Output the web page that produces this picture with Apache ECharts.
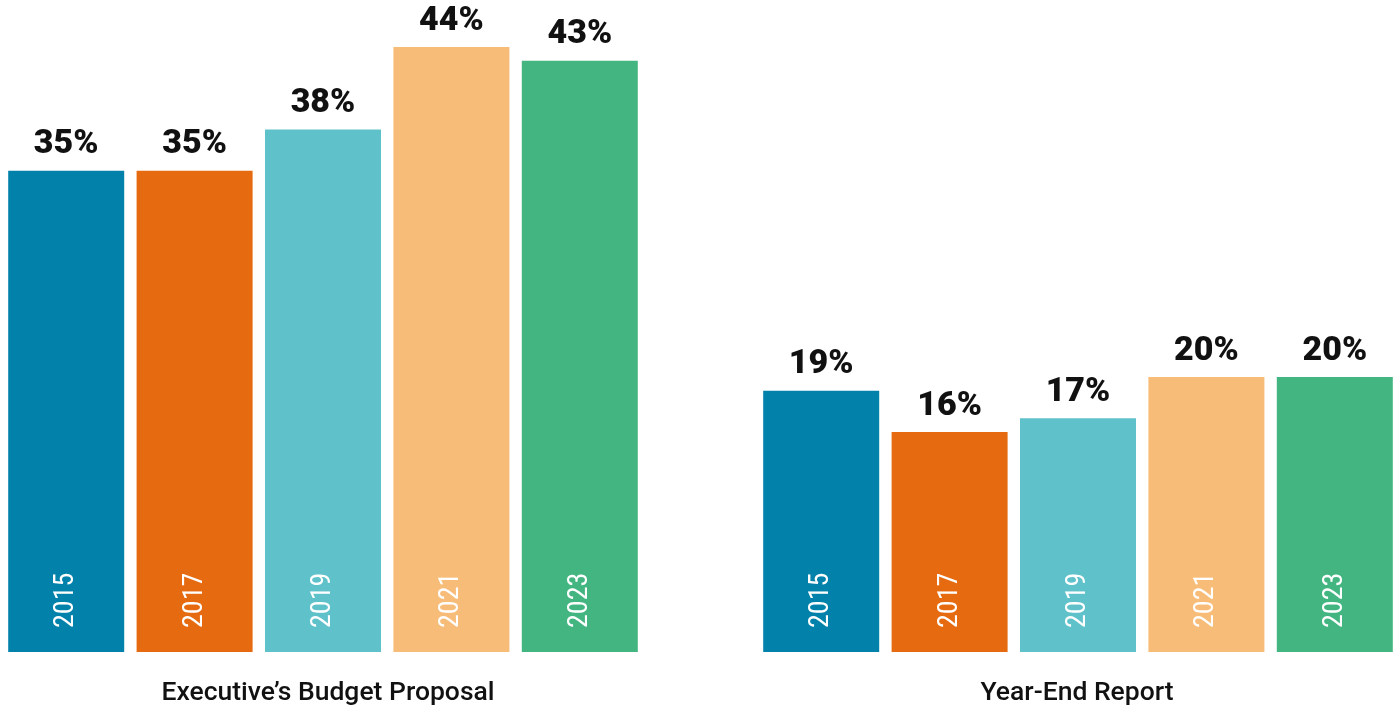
<!DOCTYPE html>
<html>
<head>
<meta charset="utf-8">
<script src="https://cdn.jsdelivr.net/npm/echarts@6/dist/echarts.min.js"></script>
<style>
html,body{margin:0;padding:0;background:#fff;overflow:hidden;width:1397px;height:711px;}
#main{width:1400px;height:711px;}
</style>
</head>
<body>
<div id="main"></div>
<script>
const categories = ['2015', '2017', '2019', '2021', '2023'];
const proposalValues = [35, 35, 38, 44, 43];
const yearEndValues = [19, 16, 17, 20, 20];
const groupTitles = ['Executive\u2019s Budget Proposal', 'Year-End Report'];
const barColors = ['#0281AA', '#E66A10', '#5FC1C9', '#F8BC79', '#43B580'];

const chart = echarts.init(document.getElementById('main'), null, {renderer: 'canvas'});

const grids = [
  {left: 2, top: 5.75, width: 642, bottom: 59},
  {left: 757, top: 5.75, width: 642, bottom: 59}
];

function valueSeries(idx, values) {
  return {
    type: 'bar',
    xAxisIndex: idx,
    yAxisIndex: idx,
    data: values.map((v, i) => ({value: v, itemStyle: {color: barColors[i]}})),
    barWidth: 116,
    barGap: '-100%',
    label: {
      show: true,
      position: 'top',
      distance: 9,
      formatter: p => p.value + '%',
      fontFamily: 'Roboto',
      fontWeight: 900,
      fontSize: 34,
      color: '#111'
    },
    emphasis: {disabled: true},
    silent: true,
    animation: false
  };
}

function yearSeries(idx, values) {
  return {
    type: 'bar',
    xAxisIndex: idx,
    yAxisIndex: idx,
    data: values,
    barWidth: 116,
    barGap: '-100%',
    itemStyle: {color: 'rgba(0,0,0,0)'},
    label: {
      show: true,
      position: 'insideBottom',
      rotate: 90,
      align: 'left',
      verticalAlign: 'middle',
      distance: 24,
      formatter: p => p.name,
      fontFamily: '"Liberation Sans Narrow", "Roboto Condensed", Roboto',
      fontSize: 28,
      color: '#ffffff'
    },
    z: 5,
    emphasis: {disabled: true},
    silent: true,
    animation: false
  };
}

const option = {
  backgroundColor: '#ffffff',
  animation: false,
  grid: grids,
  xAxis: [0, 1].map(i => ({
    type: 'category',
    gridIndex: i,
    data: categories,
    axisLine: {show: false},
    axisTick: {show: false},
    axisLabel: {show: false},
    splitLine: {show: false}
  })),
  yAxis: [0, 1].map(i => ({
    type: 'value',
    gridIndex: i,
    min: 0,
    max: 47,
    show: false,
    splitLine: {show: false}
  })),
  series: [
    valueSeries(0, proposalValues),
    yearSeries(0, proposalValues),
    valueSeries(1, yearEndValues),
    yearSeries(1, yearEndValues)
  ],
  graphic: [
    {type: 'text', x: 328, y: 693, style: {text: groupTitles[0], fontFamily: 'Roboto', fontWeight: 500, fontSize: 26.5, fill: '#111', textAlign: 'center', textVerticalAlign: 'middle'}},
    {type: 'text', x: 1077, y: 693, style: {text: groupTitles[1], fontFamily: 'Roboto', fontWeight: 500, fontSize: 26.5, fill: '#111', textAlign: 'center', textVerticalAlign: 'middle'}}
  ]
};
chart.setOption(option);
</script>
</body>
</html>
